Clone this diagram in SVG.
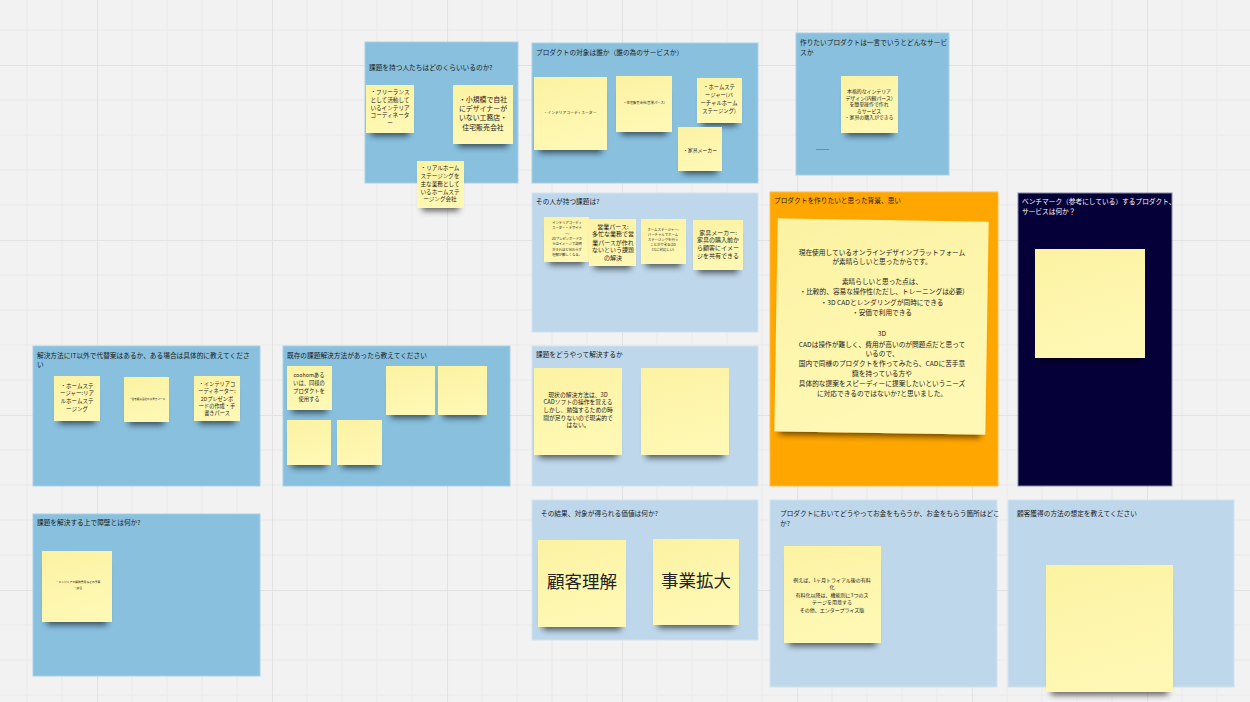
<svg xmlns="http://www.w3.org/2000/svg" width="1250" height="702" viewBox="0 0 1250 702">
<defs>
<pattern id="grid" patternUnits="userSpaceOnUse" x="97" y="65" width="175" height="175">
<path d="M35 0V175M70 0V175M105 0V175M140 0V175M0 35H175M0 70H175M0 105H175M0 140H175" stroke="#eaeaea" stroke-width="1" fill="none"/>
<path d="M0.5 0V175M0 0.5H175" stroke="#e2e2e2" stroke-width="1.2" fill="none"/>
</pattern>
<linearGradient id="ng" x1="0" y1="0" x2="0.3" y2="1">
<stop offset="0" stop-color="#fcf2a2"/>
<stop offset="1" stop-color="#fef8b4"/>
</linearGradient>
<filter id="sh" x="-20%" y="-20%" width="140%" height="150%">
<feMorphology in="SourceAlpha" operator="erode" radius="5" result="e"/>
<feOffset in="e" dy="8" result="o"/>
<feGaussianBlur in="o" stdDeviation="3" result="b"/>
<feComponentTransfer in="b" result="c"><feFuncA type="linear" slope="0.6"/></feComponentTransfer>
<feMerge><feMergeNode in="c"/><feMergeNode in="SourceGraphic"/></feMerge>
</filter>
</defs>
<style>
text{font-family:"Noto Sans CJK JP","Noto Sans",sans-serif;fill:#222;}
.pm{fill:#88c0de;stroke:#a9d0e6;stroke-width:1;}
.pl{fill:#bed7ea;stroke:#d2e3ef;stroke-width:1;}
.t{font-size:6.7px;fill:#1b1b1b;}
.n{fill:url(#ng);filter:url(#sh);}
.c{text-anchor:middle;dominant-baseline:central;}
</style>
<rect width="1250" height="702" fill="#f2f2f2"/>
<rect width="1250" height="702" fill="url(#grid)"/>

<g id="panel-kadai-hito">
<rect class="pm" x="365" y="42" width="153" height="141"/>
<text class="t" x="369" y="70">課題を持つ人たちはどのくらいいるのか?</text>
<rect class="n" x="366" y="85" width="48" height="48"/>
<text class="c" font-size="5.6" x="390"><tspan x="390" y="92">・フリーランス</tspan><tspan x="390" y="100">として活動して</tspan><tspan x="390" y="108">いるインテリア</tspan><tspan x="390" y="115">コーディネータ</tspan><tspan x="390" y="123">ー</tspan></text>
<rect class="n" x="453" y="85" width="60" height="59"/>
<text class="c" font-size="6.9" x="483"><tspan x="483" y="99">・小規模で自社</tspan><tspan x="483" y="108">にデザイナーが</tspan><tspan x="483" y="117">いない工務店・</tspan><tspan x="483" y="127">住宅販売会社</tspan></text>
<rect class="n" x="417" y="161" width="47" height="47"/>
<text class="c" font-size="5.6" x="440"><tspan x="440" y="168">・リアルホーム</tspan><tspan x="440" y="176">ステージングを</tspan><tspan x="440" y="184">主な業務として</tspan><tspan x="440" y="192">いるホームステ</tspan><tspan x="440" y="199">ージング会社</tspan></text>
</g>

<g id="panel-taisho">
<rect class="pm" x="532" y="43" width="226" height="140"/>
<text class="t" x="536" y="55">プロダクトの対象は誰か（誰の為のサービスか）</text>
<rect class="n" x="534" y="77" width="73" height="73"/>
<text class="c" font-size="3.8" x="570" y="112">・インテリアコーディネーター</text>
<rect class="n" x="616" y="76" width="56" height="56"/>
<text class="c" font-size="3.3" x="644" y="102">・住宅販売会社(営業パース)</text>
<rect class="n" x="697" y="78" width="45" height="45"/>
<text class="c" font-size="5.3" x="719"><tspan x="719" y="87">・ホームステ</tspan><tspan x="719" y="95">ージャー(バ</tspan><tspan x="719" y="103">ーチャルホーム</tspan><tspan x="719" y="111">ステージング)</tspan></text>
<rect class="n" x="678" y="127" width="44" height="44"/>
<text class="c" font-size="4.9" x="700" y="149">・家具メーカー</text>
</g>

<g id="panel-hitokoto">
<rect class="pm" x="796" y="33" width="153" height="142"/>
<text class="t" x="800" y="45">作りたいプロダクトは一言でいうとどんなサービ</text>
<text class="t" x="800" y="55">スか</text>
<rect class="n" x="841" y="76" width="57" height="57"/>
<text class="c" font-size="4.9" x="869"><tspan x="869" y="90">本格的なインテリア</tspan><tspan x="869" y="97">デザイン(内観パース)</tspan><tspan x="869" y="103">を簡単操作で作れ</tspan><tspan x="869" y="110">るサービス</tspan><tspan x="869" y="116">・家具の購入ができる</tspan></text>
<line x1="816" y1="149.5" x2="829" y2="149.5" stroke="#6d8ea3" stroke-width="1"/>
</g>

<g id="panel-kadai">
<rect class="pl" x="532" y="193" width="226" height="139"/>
<text class="t" x="536" y="204">その人が持つ課題は?</text>
<rect class="n" x="544" y="217" width="45" height="45"/>
<text class="c" font-size="3.3" x="567"><tspan x="567" y="222">インテリアコーディ</tspan><tspan x="567" y="227">ネーター・デザイナ</tspan><tspan x="567" y="233">ー:</tspan><tspan x="567" y="238">2Dプレゼンボードか</tspan><tspan x="567" y="243">らはイメージで説明</tspan><tspan x="567" y="249">がそれほど伝わらず</tspan><tspan x="567" y="254">理解が難しくなる。</tspan></text>
<rect class="n" x="589" y="219" width="47" height="47"/>
<text class="c" font-size="6" x="613"><tspan x="613" y="226">営業パース:</tspan><tspan x="613" y="233">多忙な業務で営</tspan><tspan x="613" y="242">業パースが作れ</tspan><tspan x="613" y="249">ないという課題</tspan><tspan x="613" y="257">の解決</tspan></text>
<rect class="n" x="641" y="219" width="45" height="45"/>
<text class="c" font-size="3.4" x="663"><tspan x="663" y="229">ホームステージャー:</tspan><tspan x="663" y="234">バーチャルでホーム</tspan><tspan x="663" y="239">ステージングを行う</tspan><tspan x="663" y="244">ことができる(3D</tspan><tspan x="663" y="249">CGに対応しい)</tspan></text>
<rect class="n" x="693" y="220" width="50" height="50"/>
<text class="c" font-size="6" x="718"><tspan x="718" y="232">家具メーカー:</tspan><tspan x="718" y="239">家具の購入前か</tspan><tspan x="718" y="247">ら顧客にイメー</tspan><tspan x="718" y="255">ジを共有できる</tspan></text>
</g>

<g id="panel-haikei">
<rect x="770" y="192" width="228" height="294" fill="#ffa600" stroke="#ffbd4d" stroke-width="1"/>
<text class="t" x="774" y="203">プロダクトを作りたいと思った背景、思い</text>
<g transform="rotate(0.9 881 327)">
<rect class="n" x="776" y="220" width="211" height="213"/>
</g>
<text class="c" font-size="6.7" x="882"><tspan x="882" y="252">現在使用しているオンラインデザインプラットフォーム</tspan><tspan x="882" y="261">が素晴らしいと思ったからです。</tspan><tspan x="882" y="281">素晴らしいと思った点は、</tspan><tspan x="882" y="291">・比較的、容易な操作性(ただし、トレーニングは必要)</tspan><tspan x="882" y="302">・3D CADとレンダリングが同時にできる</tspan><tspan x="882" y="312">・安価で利用できる</tspan><tspan x="882" y="333">3D</tspan><tspan x="882" y="344">CADは操作が難しく、費用が高いのが問題点だと思って</tspan><tspan x="882" y="353">いるので、</tspan><tspan x="882" y="363">国内で同様のプロダクトを作ってみたら、CADに苦手意</tspan><tspan x="882" y="373">識を持っている方や</tspan><tspan x="882" y="383">具体的な提案をスピーディーに提案したいというニーズ</tspan><tspan x="882" y="393">に対応できるのではないか?と思いました。</tspan></text>
</g>

<g id="panel-benchmark">
<rect x="1018" y="193" width="154" height="293" fill="#050038" stroke="#8a88a8" stroke-width="1"/>
<text class="t" x="1022" y="204" style="fill:#ffffff">ベンチマーク（参考にしている）するプロダクト、</text>
<text class="t" x="1022" y="214" style="fill:#ffffff">サービスは何か？</text>
<rect class="n" x="1035" y="249" width="110" height="109"/>
</g>

<g id="panel-daitai">
<rect class="pm" x="33" y="346" width="227" height="140"/>
<text class="t" x="37" y="358">解決方法にIT以外で代替案はあるか、ある場合は具体的に教えてくださ</text>
<text class="t" x="37" y="367">い</text>
<rect class="n" x="54" y="376" width="46" height="45"/>
<text class="c" font-size="5.5" x="77"><tspan x="77" y="386">・ホームステ</tspan><tspan x="77" y="393">ージャー:リア</tspan><tspan x="77" y="401">ルホームステ</tspan><tspan x="77" y="409">ージング</tspan></text>
<rect class="n" x="124" y="377" width="45" height="45"/>
<text class="c" font-size="2.6" x="147" y="399">・住宅販売会社の手書きパース</text>
<rect class="n" x="194" y="376" width="46" height="45"/>
<text class="c" font-size="5.2" x="217"><tspan x="217" y="383">・インテリアコ</tspan><tspan x="217" y="390">ーディネーター:</tspan><tspan x="217" y="398">2Dプレゼンボ</tspan><tspan x="217" y="405">ードの作成・手</tspan><tspan x="217" y="412">書きパース</tspan></text>
</g>

<g id="panel-kizon">
<rect class="pm" x="283" y="346" width="227" height="140"/>
<text class="t" x="287" y="358">既存の課題解決方法があったら教えてください</text>
<rect class="n" x="287" y="366" width="45" height="44"/>
<text class="c" font-size="5.3" x="309"><tspan x="309" y="375">coohomある</tspan><tspan x="309" y="383">いは、同様の</tspan><tspan x="309" y="391">プロダクトを</tspan><tspan x="309" y="399">使用する</tspan></text>
<rect class="n" x="386" y="366" width="49" height="49"/>
<rect class="n" x="438" y="366" width="49" height="49"/>
<rect class="n" x="287" y="420" width="44" height="45"/>
<rect class="n" x="337" y="420" width="45" height="45"/>
</g>

<g id="panel-kaiketsu">
<rect class="pl" x="532" y="346" width="226" height="140"/>
<text class="t" x="536" y="357">課題をどうやって解決するか</text>
<rect class="n" x="534" y="368" width="88" height="87"/>
<text class="c" font-size="5.8" x="578"><tspan x="578" y="394">現状の解決方法は、3D</tspan><tspan x="578" y="401">CADソフトの操作を覚える</tspan><tspan x="578" y="409">しかし、勉強するための時</tspan><tspan x="578" y="417">間が足りないので現実的で</tspan><tspan x="578" y="424">はない。</tspan></text>
<rect class="n" x="641" y="368" width="88" height="87"/>
</g>

<g id="panel-kachi">
<rect class="pl" x="532" y="500" width="226" height="140"/>
<text class="t" x="541" y="516">その結果、対象が得られる価値は何か?</text>
<rect class="n" x="538" y="540" width="88" height="87"/>
<text class="c" font-size="17.5" x="582" y="580">顧客理解</text>
<rect class="n" x="653" y="539" width="86" height="86"/>
<text class="c" font-size="17.5" x="696" y="579">事業拡大</text>
</g>

<g id="panel-okane">
<rect class="pl" x="770" y="500" width="227" height="187"/>
<text class="t" x="780" y="516">プロダクトにおいてどうやってお金をもらうか、お金をもらう箇所はどこ</text>
<text class="t" x="780" y="526">か?</text>
<rect class="n" x="784" y="546" width="97" height="97"/>
<text class="c" font-size="5" x="832"><tspan x="832" y="579">例えば、1ヶ月トライアル後の有料</tspan><tspan x="832" y="586">化</tspan><tspan x="832" y="594">有料化以降は、機能別に3つのス</tspan><tspan x="832" y="601">テージを用意する</tspan><tspan x="832" y="609">その他、エンタープライズ版</tspan></text>
</g>

<g id="panel-kokyaku">
<rect class="pl" x="1008" y="500" width="226" height="187"/>
<text class="t" x="1017" y="516">顧客獲得の方法の想定を教えてください</text>
<rect class="n" x="1046" y="565" width="127" height="127"/>
</g>

<g id="panel-shoheki">
<rect class="pm" x="33" y="514" width="227" height="162"/>
<text class="t" x="37" y="525">課題を解決する上で障壁とは何か?</text>
<rect class="n" x="42" y="551" width="70" height="71"/>
<text class="c" font-size="2.8" x="78"><tspan x="78" y="582">・エンジニアの開発費用などの予算</tspan><tspan x="78" y="588">・競合</tspan></text>
</g>

<g id="connectors"></g>
</svg>
